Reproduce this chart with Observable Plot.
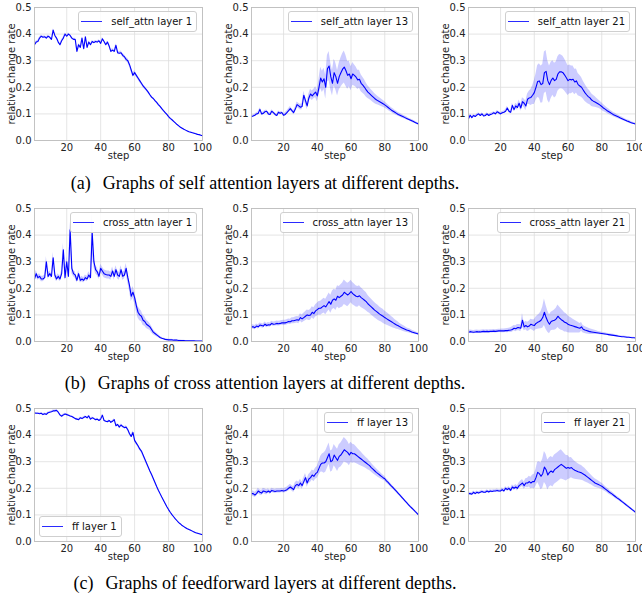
<!DOCTYPE html>
<html>
<head>
<meta charset="utf-8">
<script src="https://cdn.jsdelivr.net/npm/d3@7"></script>
<script src="https://cdn.jsdelivr.net/npm/@observablehq/plot@0.6"></script>
<style>
  html, body { margin: 0; padding: 0; background: #fff; }
  #root { position: relative; width: 642px; height: 604px; overflow: hidden; background: #fff; }
  .panel { position: absolute; width: 214px; height: 170px; }
  .legend { position: absolute; display: flex; align-items: center; height: 19px; padding: 0 4px 0 2px;
    border: 1px solid #cfcfcf; border-radius: 3px; background: rgba(255,255,255,0.85);
    font-family: "DejaVu Sans", sans-serif; font-size: 10px; color: #111; white-space: nowrap; }
  .legend .sw { width: 21px; height: 0; border-top: 1.5px solid #2a2aff; margin-right: 9px; }
  .caption { position: absolute; left: 0; width: 530px; text-align: center; font-family: "Liberation Serif", "Times New Roman", serif; font-size: 18px; line-height: 20px; color: #000; }
  .caption .tag { margin-right: 12px; }
</style>
</head>
<body>
<div id="root"></div>
<script>
// ---- data -------------------------------------------------------------
const steps = d3.range(1, 101);
const xTicks = [20, 40, 60, 80, 100];
const yTicks = [0, 0.1, 0.2, 0.3, 0.4, 0.5];

const legendLabels = [
  "self_attn layer 1", "self_attn layer 13", "self_attn layer 21",
  "cross_attn layer 1", "cross_attn layer 13", "cross_attn layer 21",
  "ff layer 1", "ff layer 13", "ff layer 21"
];
const captionTags = ["(a)", "(b)", "(c)"];
const captionTexts = [
  "Graphs of self attention layers at different depths.",
  "Graphs of cross attention layers at different depths.",
  "Graphs of feedforward layers at different depths."
];

// mean relative change rate per step (1..100)
const selfAttn1 = [
  .360,.370,.372,.385,.392,.388,.390,.385,.392,.388,
  .380,.415,.395,.385,.370,.360,.375,.385,.400,.392,
  .400,.395,.385,.380,.380,.335,.360,.350,.385,.345,
  .390,.350,.370,.360,.372,.368,.372,.370,.375,.365,
  .382,.372,.360,.370,.355,.335,.340,.335,.358,.330,
  .328,.330,.320,.315,.305,.300,.285,.265,.245,.255,
  .245,.235,.225,.215,.205,.198,.190,.182,.172,.163,
  .158,.150,.143,.135,.128,.120,.112,.105,.098,.090,
  .083,.078,.072,.066,.060,.055,.050,.046,.042,.039,
  .036,.033,.031,.029,.027,.025,.023,.022,.020,.018
];
const selfAttn13 = [
  .090,.092,.095,.100,.102,.117,.100,.102,.108,.110,
  .100,.098,.110,.105,.098,.094,.106,.102,.105,.095,
  .098,.105,.112,.120,.112,.105,.118,.135,.130,.125,
  .128,.170,.150,.130,.160,.175,.168,.175,.182,.168,
  .200,.235,.220,.232,.200,.270,.280,.240,.215,.255,
  .240,.215,.240,.255,.268,.276,.262,.245,.250,.232,
  .250,.245,.238,.228,.230,.215,.208,.200,.190,.182,
  .176,.170,.164,.158,.153,.149,.146,.142,.138,.134,
  .129,.124,.119,.114,.110,.106,.102,.098,.095,.092,
  .089,.086,.083,.080,.077,.074,.071,.068,.065,.062
];
const selfAttn21 = [
  .082,.095,.086,.094,.090,.096,.100,.094,.100,.092,
  .094,.100,.094,.098,.100,.104,.100,.108,.104,.100,
  .104,.106,.110,.122,.110,.106,.132,.116,.130,.124,
  .140,.122,.146,.140,.130,.155,.160,.162,.170,.180,
  .200,.222,.224,.210,.214,.255,.260,.225,.210,.226,
  .235,.225,.230,.250,.258,.258,.255,.246,.236,.225,
  .230,.228,.230,.220,.224,.210,.205,.200,.190,.180,
  .172,.165,.160,.152,.148,.145,.141,.137,.133,.128,
  .122,.118,.113,.109,.105,.101,.097,.094,.091,.088,
  .085,.082,.079,.076,.073,.071,.068,.066,.064,.062
];
const crossAttn1 = [
  .235,.255,.240,.245,.235,.235,.240,.300,.245,.255,
  .245,.315,.250,.235,.245,.235,.255,.345,.240,.300,
  .245,.420,.275,.255,.250,.230,.255,.230,.235,.230,
  .240,.235,.250,.240,.410,.300,.270,.262,.245,.275,
  .265,.255,.252,.250,.250,.245,.265,.245,.270,.250,
  .245,.270,.245,.250,.275,.240,.210,.170,.185,.165,
  .135,.110,.100,.095,.080,.075,.065,.060,.055,.045,
  .035,.030,.025,.020,.015,.012,.010,.008,.007,.006,
  .006,.006,.005,.005,.005,.004,.004,.004,.004,.003,
  .003,.003,.003,.003,.003,.002,.002,.002,.002,.002
];
const crossAttn13 = [
  .055,.055,.052,.058,.055,.062,.060,.058,.065,.060,
  .063,.062,.068,.065,.066,.068,.067,.068,.070,.070,
  .070,.072,.075,.074,.078,.078,.080,.082,.080,.090,
  .085,.090,.095,.100,.098,.100,.110,.105,.115,.120,
  .125,.125,.130,.135,.130,.140,.150,.140,.155,.160,
  .155,.170,.165,.170,.175,.185,.180,.175,.180,.188,
  .180,.175,.170,.168,.172,.165,.160,.155,.150,.142,
  .136,.130,.124,.118,.113,.108,.103,.099,.095,.090,
  .086,.082,.078,.074,.070,.066,.062,.059,.055,.052,
  .049,.046,.043,.041,.039,.036,.034,.032,.030,.028
];
const crossAttn21 = [
  .035,.037,.036,.035,.036,.037,.036,.036,.037,.038,
  .037,.038,.037,.038,.038,.039,.038,.039,.040,.040,
  .040,.040,.041,.041,.042,.043,.045,.050,.048,.052,
  .052,.050,.080,.055,.060,.055,.058,.065,.062,.060,
  .068,.072,.075,.080,.090,.110,.090,.075,.065,.075,
  .078,.080,.085,.095,.088,.082,.078,.072,.070,.065,
  .062,.060,.058,.056,.054,.052,.050,.055,.046,.043,
  .041,.039,.037,.036,.035,.034,.033,.032,.031,.030,
  .029,.028,.027,.026,.025,.024,.023,.022,.021,.020,
  .019,.018,.018,.017,.016,.016,.015,.014,.014,.013
];
const ff1 = [
  .483,.482,.482,.480,.482,.477,.480,.478,.484,.486,
  .488,.491,.491,.493,.486,.476,.471,.476,.479,.477,
  .475,.472,.470,.466,.462,.460,.458,.465,.462,.466,
  .470,.465,.472,.460,.465,.462,.458,.460,.455,.460,
  .475,.455,.452,.450,.455,.448,.452,.458,.435,.440,
  .430,.438,.432,.428,.430,.420,.405,.395,.410,.380,
  .370,.360,.348,.340,.325,.310,.295,.280,.265,.252,
  .237,.222,.207,.193,.180,.167,.155,.143,.131,.120,
  .110,.101,.093,.085,.078,.071,.066,.060,.056,.052,
  .048,.045,.042,.039,.036,.033,.031,.029,.027,.025
];
const ff13 = [
  .180,.180,.175,.180,.190,.185,.182,.190,.188,.185,
  .190,.185,.192,.190,.188,.190,.190,.190,.192,.190,
  .192,.195,.200,.205,.200,.195,.210,.215,.210,.220,
  .210,.225,.240,.220,.235,.240,.250,.245,.255,.260,
  .275,.290,.295,.295,.300,.315,.330,.300,.305,.325,
  .315,.305,.320,.325,.335,.345,.340,.335,.325,.335,
  .330,.330,.325,.320,.315,.310,.305,.300,.295,.290,
  .285,.278,.272,.266,.260,.255,.250,.245,.240,.236,
  .228,.222,.215,.208,.202,.195,.188,.181,.174,.167,
  .160,.153,.146,.139,.132,.126,.120,.113,.107,.100
];
const ff21 = [
  .180,.180,.178,.185,.180,.185,.182,.185,.188,.185,
  .185,.190,.186,.190,.188,.190,.190,.192,.190,.190,
  .195,.190,.200,.195,.200,.192,.205,.200,.205,.200,
  .210,.215,.220,.210,.220,.220,.225,.220,.225,.225,
  .240,.260,.255,.245,.255,.280,.270,.250,.260,.265,
  .260,.270,.275,.280,.285,.290,.285,.280,.275,.278,
  .275,.278,.272,.268,.265,.262,.260,.258,.254,.250,
  .245,.240,.235,.230,.225,.220,.217,.214,.211,.208,
  .203,.198,.193,.188,.183,.179,.174,.169,.164,.160,
  .155,.150,.145,.140,.135,.130,.125,.120,.115,.110
];

// half-width of the shaded band per step (1..100)
const selfAttn1Spread = [
  .004,.004,.004,.004,.004,.004,.004,.004,.004,.004,
  .004,.005,.004,.004,.004,.004,.004,.004,.004,.004,
  .004,.004,.004,.004,.004,.006,.005,.005,.005,.006,
  .005,.005,.004,.004,.004,.004,.004,.004,.004,.004,
  .005,.004,.004,.004,.005,.006,.005,.006,.006,.006,
  .006,.006,.007,.007,.007,.008,.008,.008,.008,.008,
  .007,.007,.007,.006,.006,.006,.005,.005,.005,.005,
  .004,.004,.004,.004,.004,.003,.003,.003,.003,.003,
  .003,.003,.003,.002,.002,.002,.002,.002,.002,.002,
  .002,.002,.002,.002,.002,.002,.002,.001,.001,.001
];
const selfAttn13Spread = [
  .004,.004,.004,.004,.005,.006,.005,.005,.005,.005,
  .005,.005,.006,.005,.005,.005,.005,.005,.005,.005,
  .006,.006,.007,.008,.007,.007,.008,.010,.010,.010,
  .012,.015,.014,.014,.015,.018,.018,.018,.020,.022,
  .030,.040,.040,.040,.045,.050,.055,.050,.048,.050,
  .050,.048,.050,.055,.058,.060,.058,.052,.048,.045,
  .043,.040,.038,.036,.034,.032,.030,.028,.026,.024,
  .022,.021,.020,.019,.018,.016,.015,.014,.013,.012,
  .011,.010,.010,.009,.009,.008,.008,.007,.007,.007,
  .006,.006,.006,.005,.005,.005,.005,.004,.004,.004
];
const selfAttn21Spread = [
  .004,.004,.004,.004,.004,.004,.004,.004,.004,.004,
  .004,.004,.004,.004,.004,.004,.004,.005,.005,.005,
  .005,.005,.006,.007,.006,.006,.008,.008,.010,.010,
  .012,.012,.015,.016,.018,.020,.025,.030,.035,.045,
  .050,.060,.065,.070,.072,.078,.078,.075,.070,.068,
  .065,.065,.065,.065,.065,.063,.062,.060,.058,.056,
  .054,.052,.050,.048,.045,.042,.040,.037,.034,.032,
  .030,.028,.026,.024,.022,.020,.018,.016,.015,.014,
  .013,.012,.011,.010,.009,.009,.008,.008,.007,.007,
  .006,.006,.006,.005,.005,.005,.005,.004,.004,.004
];
const crossAttn1Spread = [
  .010,.012,.010,.010,.010,.010,.010,.020,.012,.010,
  .010,.020,.012,.010,.010,.010,.012,.025,.012,.020,
  .012,.030,.020,.012,.012,.010,.012,.010,.010,.010,
  .010,.010,.012,.012,.080,.020,.015,.015,.012,.015,
  .015,.015,.015,.015,.015,.015,.015,.015,.015,.015,
  .015,.015,.015,.015,.018,.020,.020,.020,.022,.022,
  .022,.022,.022,.020,.020,.018,.016,.015,.013,.012,
  .010,.008,.007,.006,.005,.004,.003,.003,.003,.002,
  .002,.002,.002,.002,.002,.002,.002,.001,.001,.001,
  .001,.001,.001,.001,.001,.001,.001,.001,.001,.001
];
const crossAttn13Spread = [
  .008,.008,.008,.008,.008,.008,.008,.008,.008,.008,
  .008,.008,.008,.008,.008,.009,.009,.009,.009,.010,
  .010,.010,.010,.010,.011,.011,.012,.012,.013,.014,
  .015,.016,.017,.018,.019,.020,.021,.022,.023,.024,
  .025,.026,.027,.028,.029,.030,.032,.034,.035,.036,
  .038,.040,.042,.043,.045,.046,.045,.044,.043,.042,
  .042,.041,.040,.039,.038,.037,.036,.035,.034,.032,
  .030,.030,.029,.029,.028,.028,.027,.026,.026,.025,
  .024,.023,.022,.020,.019,.017,.016,.014,.013,.012,
  .011,.010,.009,.008,.008,.007,.006,.006,.005,.005
];
const crossAttn21Spread = [
  .006,.006,.006,.006,.006,.006,.006,.006,.006,.006,
  .006,.006,.006,.006,.006,.006,.006,.006,.006,.006,
  .007,.007,.007,.008,.008,.009,.010,.010,.011,.012,
  .012,.013,.025,.015,.016,.017,.018,.019,.020,.022,
  .024,.026,.028,.032,.040,.050,.045,.040,.036,.035,
  .036,.038,.040,.042,.042,.040,.038,.036,.034,.032,
  .030,.028,.026,.024,.022,.020,.018,.016,.014,.013,
  .013,.012,.011,.010,.009,.008,.007,.006,.006,.005,
  .005,.005,.004,.004,.004,.004,.004,.003,.003,.003,
  .003,.003,.003,.003,.003,.002,.002,.002,.002,.002
];
const ff1Spread = [
  .003,.003,.003,.003,.003,.003,.003,.003,.003,.003,
  .003,.003,.003,.003,.003,.003,.003,.003,.003,.003,
  .003,.003,.003,.003,.003,.003,.003,.003,.003,.003,
  .003,.003,.003,.003,.003,.003,.003,.003,.003,.003,
  .003,.003,.003,.003,.003,.003,.003,.003,.004,.004,
  .004,.004,.004,.004,.005,.005,.005,.005,.006,.006,
  .006,.006,.006,.006,.006,.006,.006,.005,.005,.005,
  .005,.005,.004,.004,.004,.003,.003,.003,.003,.003,
  .002,.002,.002,.002,.002,.002,.002,.002,.002,.002,
  .002,.002,.002,.002,.002,.002,.002,.002,.002,.002
];
const ff13Spread = [
  .010,.010,.010,.010,.010,.010,.010,.010,.010,.010,
  .008,.008,.008,.008,.008,.008,.008,.008,.008,.008,
  .009,.009,.010,.010,.010,.011,.012,.012,.013,.014,
  .014,.015,.016,.016,.017,.018,.019,.020,.021,.022,
  .026,.030,.034,.038,.040,.040,.040,.040,.040,.040,
  .040,.042,.044,.045,.046,.046,.044,.042,.040,.038,
  .036,.034,.032,.030,.028,.026,.024,.022,.021,.020,
  .018,.017,.016,.015,.014,.013,.012,.011,.010,.009,
  .008,.008,.007,.007,.006,.006,.006,.005,.005,.005,
  .005,.004,.004,.004,.004,.004,.004,.004,.004,.004
];
const ff21Spread = [
  .005,.005,.005,.005,.005,.005,.005,.005,.005,.005,
  .005,.005,.005,.005,.005,.005,.005,.005,.005,.005,
  .006,.006,.006,.006,.007,.007,.008,.008,.009,.010,
  .011,.012,.013,.014,.016,.018,.020,.022,.025,.028,
  .032,.038,.045,.050,.055,.058,.058,.056,.055,.055,
  .055,.055,.055,.055,.055,.055,.052,.050,.048,.045,
  .040,.038,.036,.034,.032,.030,.029,.028,.026,.025,
  .023,.021,.020,.018,.017,.016,.015,.014,.013,.012,
  .011,.010,.009,.009,.008,.008,.007,.007,.006,.006,
  .006,.005,.005,.005,.005,.005,.004,.004,.004,.004
];

const panelValues = [selfAttn1, selfAttn13, selfAttn21, crossAttn1, crossAttn13, crossAttn21, ff1, ff13, ff21];
const panelSpreads = [selfAttn1Spread, selfAttn13Spread, selfAttn21Spread, crossAttn1Spread, crossAttn13Spread, crossAttn21Spread, ff1Spread, ff13Spread, ff21Spread];
const legendCorner = ["top-right","top-right","top-right","top-right","top-right","top-right","bottom-left","top-right","top-right"];

// ---- layout -------------------------------------------------------------
const root = document.getElementById("root");
const colLeft = [0, 214, 428];
const rowTop = [0, 201, 401];
const colMarginLeft = [34, 37, 40];
const colMarginRight = [12, 10, 7];
const W = 214, H = 170, MT = 7, MB = 30;
const font = "DejaVu Sans, sans-serif";

panelValues.forEach((vals, i) => {
  const r = Math.floor(i / 3), c = i % 3;
  const spread = panelSpreads[i];
  const data = steps.map((s, j) => ({step: s, v: vals[j], lo: vals[j] - spread[j], hi: vals[j] + spread[j]}));
  const ml = colMarginLeft[c], mr = colMarginRight[c];
  const chart = Plot.plot({
    width: W, height: H,
    marginLeft: ml, marginRight: mr, marginTop: MT, marginBottom: MB,
    style: {fontFamily: font, background: "transparent", overflow: "hidden"},
    x: {domain: [1, 100]},
    y: {domain: [0, 0.5]},
    marks: [
      Plot.gridX(xTicks, {stroke: "#dedede", strokeOpacity: 1, strokeWidth: 0.8}),
      Plot.gridY(yTicks, {stroke: "#dedede", strokeOpacity: 1, strokeWidth: 0.8}),
      Plot.areaY(data, {x: "step", y1: "lo", y2: "hi", fill: "blue", fillOpacity: 0.2}),
      Plot.lineY(data, {x: "step", y: "v", stroke: "blue", strokeWidth: 1.1}),
      Plot.frame({stroke: "#bdbdbd", strokeWidth: 0.9}),
      Plot.axisX(xTicks, {tickSize: 0, tickPadding: 3.5, fontSize: 10, label: null, fill: "#222"}),
      Plot.axisY(yTicks, {tickSize: 0, tickPadding: 3, fontSize: 10, tickFormat: ".1f", label: null, fill: "#222"}),
      Plot.text(["step"], {text: d => d, frameAnchor: "bottom", dy: 18, fontSize: 10, fill: "#222"}),
      Plot.text(["relative change rate"], {text: d => d, frameAnchor: "left", textAnchor: "middle", lineAnchor: "middle", dx: -23, rotate: -90, fontSize: 10, fill: "#222"})
    ]
  });
  const panel = document.createElement("div");
  panel.className = "panel";
  panel.style.left = colLeft[c] + "px";
  panel.style.top = rowTop[r] + "px";
  panel.appendChild(chart);

  const lg = document.createElement("div");
  lg.className = "legend";
  lg.innerHTML = `<span class="sw"></span><span>${legendLabels[i]}</span>`;
  if (legendCorner[i] === "top-right") {
    lg.style.right = (mr + 5) + "px";
    lg.style.top = (MT + 4) + "px";
  } else {
    lg.style.left = (ml + 5) + "px";
    lg.style.bottom = (MB + 4) + "px";
  }
  panel.appendChild(lg);
  root.appendChild(panel);
});

const captionTop = [173, 373, 573];
captionTexts.forEach((t, k) => {
  const cap = document.createElement("div");
  cap.className = "caption";
  cap.style.top = captionTop[k] + "px";
  cap.innerHTML = `<span class="tag">${captionTags[k]}</span>${t}`;
  root.appendChild(cap);
});
</script>
</body>
</html>
